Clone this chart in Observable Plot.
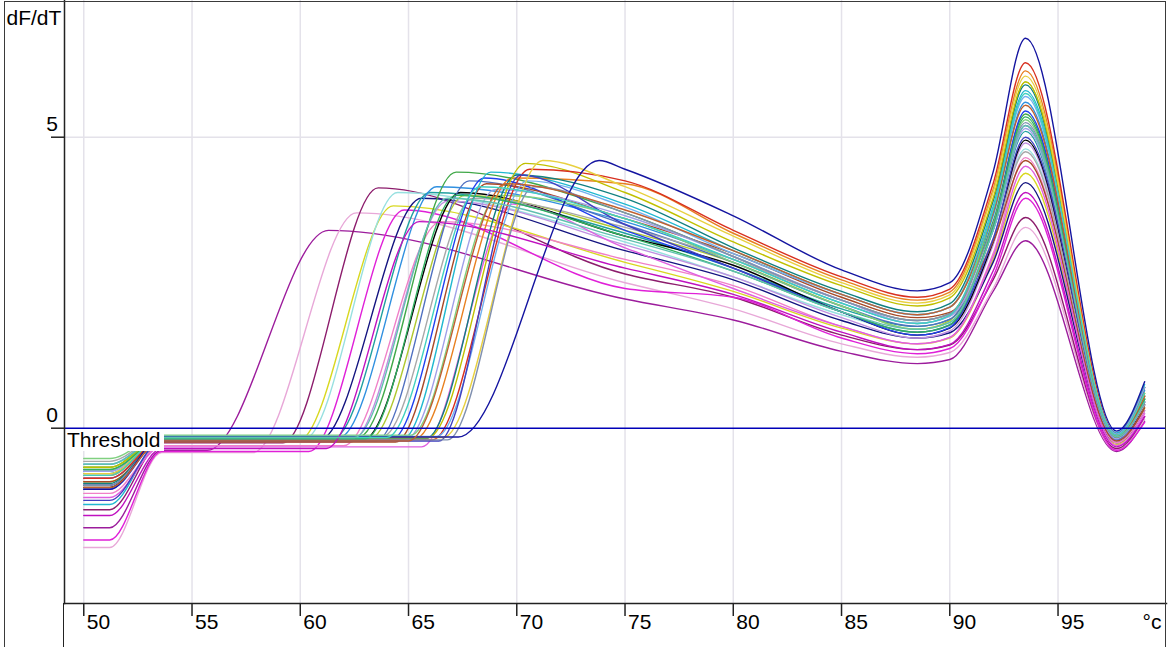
<!DOCTYPE html>
<html>
<head>
<meta charset="utf-8">
<script src="https://cdn.jsdelivr.net/npm/d3@7"></script>
<script src="https://cdn.jsdelivr.net/npm/@observablehq/plot@0.6"></script>
<style>
  html, body { margin: 0; padding: 0; background: #fff; }
  #wrap { position: relative; width: 1168px; height: 647px; overflow: hidden; font-family: "Liberation Sans", Arial, sans-serif; }
  #border { position: absolute; left: 4px; top: 1px; width: 1160px; height: 700px; border: 1.5px solid #3a3a3a; pointer-events: none; }
  #axisExt { position: absolute; left: 63px; top: 603px; width: 0; height: 44px; border-left: 1.5px solid #222; }
  #thr { position: absolute; left: 66px; top: 429px; width: 97px; height: 22px; line-height: 22px; background: #fff; font-size: 21px; color: #000; padding-left: 1px; white-space: nowrap; }
</style>
</head>
<body>
<div id="wrap"><div id="chart"></div><div id="axisExt"></div><div id="border"></div><div id="thr"></div></div>
<script>
// ---- data ----
const xTicks = [50, 55, 60, 65, 70, 75, 80, 85, 90, 95];
const yTicks = [0, 5];
const yLabel = "dF/dT";
const xUnit = "°c";
const thresholdValue = 0;
const thresholdLabel = "Threshold";

const sampleColors = ["#9c1c9c","#e8a8d8","#8c1c6c","#d8d820","#98e0e0","#e020d8","#141480","#20a0a0","#3090e0","#f080c8",
  "#c090e0","#40a848","#000000","#b0c830","#5070c0","#a8a8a8","#2040f0","#a84a28","#20b8d0","#a0a0e8",
  "#80d080","#e88020","#e060e0","#108080","#c0c000","#d83020","#70b0f0","#4040c0","#e8d040","#8090b0",
  "#1414a0","#30b060","#c06030","#40d0c0","#c010c0","#60c0b0"];
const leadTemps = [50, 51.2, 53.6];
const startValues = [-1.71,-2.05,-1.40,-0.92,-0.62,-1.92,-0.98,-0.78,-0.74,-1.12,
  -0.86,-0.67,-1.02,-0.71,-0.86,-0.57,-1.05,-0.92,-1.31,-0.74,
  -0.52,-0.81,-1.19,-0.95,-0.67,-0.86,-0.62,-1.24,-0.78,-0.98,
  -1.05,-0.71,-1.02,-0.81,-1.50,-0.62];
const baselineValues = [-0.38,-0.42,-0.25,-0.22,-0.18,-0.40,-0.20,-0.18,-0.16,-0.30,
  -0.24,-0.15,-0.20,-0.18,-0.22,-0.14,-0.20,-0.24,-0.20,-0.18,
  -0.12,-0.18,-0.32,-0.18,-0.16,-0.20,-0.14,-0.22,-0.16,-0.20,
  -0.15,-0.18,-0.22,-0.16,-0.35,-0.16];
const onsetTemps = [55.7,57.8,59.2,59.9,60.2,60.4,60.9,61.5,61.8,62.0,
  62.3,62.7,62.9,63.2,63.5,63.8,64.2,64.4,64.7,64.9,
  65.1,65.3,65.6,65.8,65.9,66.1,66.3,66.4,66.6,66.8,
  67.3,63.0,65.0,64.0,61.2,62.5];
const firstPeakTemps = [61.3,62.6,63.6,64.3,64.5,64.8,65.6,66.0,66.3,66.5,
  66.8,67.2,67.4,67.6,67.8,68.0,68.5,68.6,68.8,69.0,
  69.2,69.8,69.8,70.0,70.4,70.6,70.5,70.2,71.2,70.8,
  73.8,67.2,69.5,68.3,65.5,66.8];
const firstPeakValues = [3.40,3.70,4.13,3.82,4.05,3.75,3.95,4.05,4.15,3.55,
  3.90,4.40,4.05,4.00,4.25,3.95,4.30,4.20,4.40,4.10,
  4.00,4.30,3.85,4.35,4.55,4.45,4.25,4.35,4.60,4.15,
  4.60,4.00,4.20,4.15,3.55,3.95];
const tailTemps = [75, 80, 85, 88.5, 90, 92, 93.5, 97.7, 99.0];
const at75 = [2.22,2.50,2.65,2.85,3.20,2.40,3.05,3.35,3.55,2.90,
  3.15,3.70,3.30,3.40,3.50,3.45,3.40,3.60,3.85,3.65,
  3.60,4.20,3.10,3.95,4.05,4.25,3.80,3.50,4.15,3.70,
  4.45,3.30,3.75,3.60,2.75,3.25];
const at80 = [1.86,2.05,2.25,2.35,2.60,2.25,2.55,2.75,2.90,2.45,
  2.60,2.95,2.80,2.85,2.85,2.90,2.75,3.00,3.05,2.95,
  2.85,3.35,2.40,3.10,3.20,3.40,3.00,2.75,3.30,2.95,
  3.65,2.70,3.05,2.90,2.30,2.70];
const at85 = [1.32,1.45,1.60,1.72,1.95,1.55,1.85,2.05,2.15,1.75,
  1.90,2.20,2.00,2.10,2.10,2.20,2.00,2.25,2.30,2.20,
  2.10,2.55,1.75,2.35,2.45,2.60,2.30,2.00,2.50,2.20,
  2.72,2.00,2.30,2.15,1.65,2.00];
const troughValues = [1.11,1.22,1.35,1.45,1.65,1.28,1.55,1.75,1.80,1.45,
  1.55,1.85,1.60,1.70,1.75,1.85,1.60,1.90,1.95,1.80,
  1.70,2.20,1.45,2.00,2.10,2.25,1.95,1.65,2.15,1.85,
  2.36,1.65,1.95,1.80,1.35,1.70];
const at90 = [1.18,1.30,1.43,1.55,1.76,1.37,1.64,1.87,1.93,1.56,
  1.67,1.97,1.72,1.85,1.87,1.95,1.73,1.99,2.08,1.92,
  1.82,2.34,1.56,2.14,2.24,2.39,2.08,1.77,2.29,1.97,
  2.50,1.78,2.08,1.94,1.44,1.82];
const at92 = [2.35,2.40,2.55,2.90,3.20,2.60,2.85,3.40,3.65,3.00,
  3.15,3.55,3.20,3.75,3.40,3.25,3.45,3.20,3.80,3.40,
  3.45,4.10,2.95,3.90,3.95,4.20,3.75,3.25,4.05,3.50,
  4.40,3.45,3.70,3.75,2.70,3.40];
const meltPeakValues = [3.22,3.45,3.62,4.38,4.80,3.95,4.22,5.10,5.60,4.65,
  4.90,5.40,4.95,5.95,5.20,4.75,5.45,4.60,5.80,5.15,
  5.30,6.14,4.50,5.90,5.95,6.28,5.70,5.00,6.05,5.25,
  6.70,5.35,5.55,5.75,4.05,5.20];
const dipValues = [-0.40,-0.38,-0.35,-0.28,-0.20,-0.38,-0.25,-0.18,-0.12,-0.25,
  -0.22,-0.15,-0.18,-0.12,-0.20,-0.15,-0.15,-0.22,-0.08,-0.18,
  -0.15,-0.12,-0.30,-0.10,-0.12,-0.10,-0.10,-0.15,-0.15,-0.16,
  -0.05,-0.15,-0.15,-0.12,-0.32,-0.15];
const endValues = [0.12,0.15,0.20,0.35,0.45,0.10,0.30,0.50,0.65,0.30,
  0.40,0.50,0.40,0.55,0.45,0.40,0.55,0.35,0.75,0.45,
  0.50,0.60,0.25,0.70,0.60,0.70,0.70,0.45,0.55,0.45,
  0.80,0.50,0.55,0.60,0.20,0.45];

// ---- build the table for Plot ----
const points = [];
sampleColors.forEach((color, i) => {
  const tailVals = [at75[i], at80[i], at85[i], troughValues[i], at90[i], at92[i], meltPeakValues[i], dipValues[i], endValues[i]];
  const Ts = [...leadTemps, onsetTemps[i], firstPeakTemps[i], ...tailTemps];
  const Vs = [startValues[i], startValues[i], baselineValues[i], baselineValues[i], firstPeakValues[i], ...tailVals];
  Ts.forEach((T, k) => points.push({id: i, color, T, v: Vs[k]}));
});

const xDomain = [49.11, 100.01];
const yDomain = [-3.012, 7.349];

const chart = Plot.plot({
  width: 1168,
  height: 647,
  marginLeft: 64,
  marginRight: 2,
  marginTop: 0,
  marginBottom: 44,
  x: {domain: xDomain},
  y: {domain: yDomain},
  color: {type: "identity"},
  style: {fontFamily: "'Liberation Sans', Arial, sans-serif", fontSize: "21px", color: "#000", background: "transparent", overflow: "visible"},
  marks: [
    Plot.gridX(xTicks, {stroke: "#e4e2ea", strokeOpacity: 1, strokeWidth: 1.5}),
    Plot.gridY([5], {stroke: "#e4e2ea", strokeOpacity: 1, strokeWidth: 1.5}),
    Plot.line(points, {x: "T", y: "v", z: "id", stroke: "color", curve: "monotone-x", strokeWidth: 1.4}),
    Plot.ruleY([thresholdValue], {stroke: "#0000b8", strokeWidth: 1.5}),
    Plot.frame({anchor: "bottom", stroke: "#222", strokeWidth: 1.5}),
    Plot.frame({anchor: "left", stroke: "#222", strokeWidth: 1.5}),
    Plot.axisX(xTicks, {anchor: "bottom", tickSize: 13, stroke: "#222", strokeWidth: 1.5, label: null, tickFormat: () => ""}),
    Plot.axisY(yTicks, {anchor: "left", tickSize: 13, stroke: "#222", strokeWidth: 1.5, label: null, tickFormat: () => ""}),
    Plot.text(xTicks, {x: d => d, frameAnchor: "bottom", text: d => String(d), textAnchor: "start", lineAnchor: "top", dx: 3, dy: 11, fontSize: 21, fill: "#000"}),
    Plot.text(yTicks, {y: d => d, frameAnchor: "left", text: d => String(d), textAnchor: "end", lineAnchor: "middle", dx: -6.5, dy: -13, fontSize: 21, fill: "#000"}),
    Plot.text([yLabel], {frameAnchor: "top-left", text: d => d, textAnchor: "start", lineAnchor: "top", dx: -58, dy: 10, fontSize: 21, fill: "#000"}),
    Plot.text([xUnit], {frameAnchor: "bottom-right", text: d => d, textAnchor: "end", lineAnchor: "top", dx: -5, dy: 11, fontSize: 21, fill: "#000"})
  ]
});
document.getElementById("chart").appendChild(chart);
document.getElementById("thr").textContent = thresholdLabel;
</script>
</body>
</html>
